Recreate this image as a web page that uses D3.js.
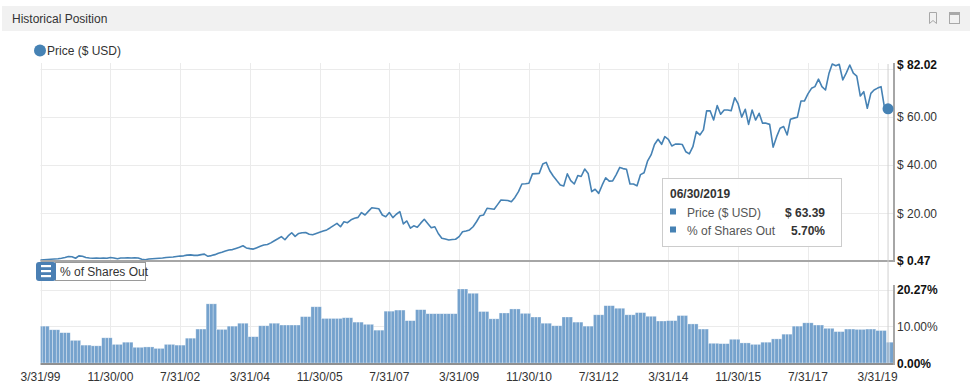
<!DOCTYPE html>
<html><head><meta charset="utf-8">
<script src="https://cdn.jsdelivr.net/npm/d3@7/dist/d3.min.js"></script>
<style>body{margin:0;background:#fff}svg{display:block;font-family:"Liberation Sans",Arial,sans-serif}</style>
</head><body><svg id="c" width="974" height="389"></svg>
<script>
const title = "Historical Position";
const priceName = "Price ($ USD)";
const sharesName = "% of Shares Out";
const firstMonthEnd = "1999-03-31";
// monthly month-end prices, 3/99 .. 6/19
const priceValues = [
0.47,0.6,0.7,0.8,0.9,1.0,1.2,1.5,1.9,1.8,
1.2,2.2,2.0,1.5,1.3,1.2,1.3,1.2,1.3,1.2,
1.5,1.3,1.0,1.3,1.3,1.4,1.3,1.4,1.3,0.8,
0.6,0.9,1.0,1.1,1.2,1.3,1.5,1.6,1.7,1.9,
2.1,2.2,2.5,2.6,2.4,2.4,2.7,2.9,2.0,2.3,
2.7,3.3,3.7,4.2,4.6,4.8,5.3,5.8,6.4,5.5,
5.2,5.0,5.6,6.2,6.7,6.9,7.6,8.5,9.3,10.2,
8.9,10.5,11.8,10.3,11.5,11.8,11.9,11.2,11.0,11.5,
12.0,12.5,13.0,13.8,14.8,15.7,14.3,16.4,16.0,17.2,
17.8,18.2,20.2,19.2,20.8,22.2,22.0,21.8,19.2,18.5,
20.2,18.1,19.5,20.6,15.5,16.7,13.7,14.7,14.1,15.8,
17.4,15.7,13.9,14.3,11.5,9.5,9.2,8.8,9.0,9.1,
10.2,12.2,12.5,13.0,14.3,16.5,18.9,19.2,22.0,21.8,
21.6,23.4,25.4,25.3,25.2,24.7,26.5,28.9,32.1,32.2,
32.4,36.3,36.4,36.5,40.4,41.1,37.6,35.4,33.5,31.7,
31.3,36.3,33.5,32.1,35.6,35.2,38.3,36.5,28.9,29.9,
28.2,31.7,34.7,33.3,33.4,36.0,39.0,38.5,38.2,32.1,
32.1,31.3,36.0,36.8,41.6,44.2,48.5,50.7,48.6,51.8,
50.7,47.9,48.7,48.7,48.5,45.5,44.6,47.6,53.9,52.5,
54.6,62.5,62.5,58.7,64.7,61.1,62.9,62.9,62.6,68.0,
65.4,59.9,63.2,56.9,62.9,58.7,61.5,57.4,57.4,56.9,
47.4,51.8,55.3,56.0,52.5,59.0,59.5,59.9,66.6,66.6,
69.6,71.9,72.6,75.7,72.6,71.2,78.2,82.02,81.3,81.9,
75.4,78.2,81.6,78.2,77.0,68.7,70.5,63.6,69.8,71.2,
72.0,72.6,63.6,63.39];
const latestDate = "2019-08-21";
const latestPrice = 62.6;
// quarterly % of shares outstanding, 3/99 .. 6/19
const sharesValues = [
10.1,9.1,8.3,6.2,4.9,4.7,6.9,5.1,5.7,4.3,
4.4,4.0,5.1,4.9,6.8,9.3,16.2,9.2,10.1,10.9,
7.2,10.2,10.9,10.4,10.4,12.7,15.4,12.2,12.2,12.4,
11.2,10.6,9.0,14.2,14.5,11.6,14.6,13.5,13.5,13.5,
20.27,19.1,14.1,12.1,13.7,14.8,13.6,12.6,10.9,10.2,
12.6,11.2,10.1,13.2,15.7,15.0,13.2,13.8,12.8,11.5,
11.6,13.0,10.7,9.3,5.4,5.3,6.5,5.5,5.1,5.7,
6.6,7.9,10.1,11.0,10.4,9.5,8.6,9.3,9.2,9.3,
8.9,5.70];
const xTickLabels = ["3/31/99","11/30/00","7/31/02","3/31/04","11/30/05","7/31/07","3/31/09","11/30/10","7/31/12","3/31/14","11/30/15","7/31/17","3/31/19"];
const priceTicks = [82.02, 60, 40, 20, 0.47];
const priceBoldTicks = [82.02, 0.47];
const priceGrid = [20, 40, 60, 80];
const sharesTicks = [20.27, 10, 0];
const sharesBoldTicks = [20.27, 0];
const sharesGrid = [10, 20];
const tooltipDate = "06/30/2019";

const svg = d3.select("#c");
const BLUE = "#4682b4", TXT = "#333";
const L = 40.5, R = 894;
const parseISO = d3.timeParse("%Y-%m-%d");
const parseTick = d3.timeParse("%-m/%d/%y");
const start = parseISO(firstMonthEnd);
const monthEnd = i => d3.timeDay.offset(d3.timeMonth.offset(new Date(start.getFullYear(), start.getMonth()+1, 1), i), -1);
const priceData = priceValues.map((v,i)=>({d: monthEnd(i), v}));
priceData.push({d: parseISO(latestDate), v: latestPrice});

const x = d3.scaleTime().domain([start, parseISO(latestDate)]).range([L, R]);
const yP = d3.scaleLinear().domain([0.47, 82.02]).range([260, 64]);
const yS = d3.scaleLinear().domain([0, 20.27]).range([363, 289]);

// header
svg.append("rect").attr("x",2).attr("y",6).attr("width",968).attr("height",25).attr("fill","#f1f1f1");
svg.append("text").attr("x",12).attr("y",22.5).attr("font-size",12).attr("fill",TXT).text(title);
svg.append("path").attr("d","M929.5,12.5 h7 v11 l-3.5,-3 l-3.5,3 z").attr("fill","none").attr("stroke","#a8a8a8");
svg.append("rect").attr("x",949.5).attr("y",12.5).attr("width",10).attr("height",11).attr("fill","none").attr("stroke","#a8a8a8");
svg.append("line").attr("x1",949.5).attr("x2",959.5).attr("y1",14).attr("y2",14).attr("stroke","#a8a8a8").attr("stroke-width",2);

// gridlines
const ticksX = xTickLabels.map(s=>parseTick(s));
const g = svg.append("g");
g.selectAll(".vg").data(ticksX).join("line").attr("x1",d=>Math.round(x(d))+0.5).attr("x2",d=>Math.round(x(d))+0.5)
  .attr("y1",63).attr("y2",363).attr("stroke","#ebebeb");
g.selectAll(".hp").data(priceGrid).join("line").attr("x1",L).attr("x2",R).attr("y1",d=>Math.round(yP(d))+0.5).attr("y2",d=>Math.round(yP(d))+0.5).attr("stroke","#ebebeb");
g.selectAll(".hs").data(sharesGrid).join("line").attr("x1",L).attr("x2",R).attr("y1",d=>Math.round(yS(d))+0.5).attr("y2",d=>Math.round(yS(d))+0.5).attr("stroke","#ebebeb");

// bars (monthly columns, quarterly values)
const bars = [];
sharesValues.forEach((v,q)=>{
  for(let m=0;m<3;m++){
    const i=3*q+m;
    const c=x(monthEnd(i));
    let l=(x(monthEnd(i-1))+c)/2, r=(c+x(monthEnd(i+1)))/2;
    l=Math.max(l,L); r=Math.min(r,R);
    if(r>l) bars.push({l,r,v});
  }
});
svg.append("g").selectAll("rect").data(bars).join("rect")
  .attr("x",d=>d.l).attr("width",d=>d.r-d.l).attr("y",d=>yS(d.v)).attr("height",d=>363-yS(d.v))
  .attr("fill","#75a2cd").attr("stroke","rgba(255,255,255,0.5)").attr("stroke-width",0.6);

// price line
svg.append("path").datum(priceData).attr("fill","none").attr("stroke",BLUE).attr("stroke-width",1.6)
  .attr("stroke-linejoin","round").attr("d",d3.line().x(d=>x(d.d)).y(d=>yP(d.v)));

// axes lines
svg.append("line").attr("x1",L).attr("x2",R+1).attr("y1",261).attr("y2",261).attr("stroke","#a6a6a6").attr("stroke-width",2);
svg.append("line").attr("x1",R).attr("x2",R).attr("y1",63).attr("y2",262).attr("stroke","#a6a6a6").attr("stroke-width",2);
svg.append("line").attr("x1",L).attr("x2",R+1).attr("y1",364).attr("y2",364).attr("stroke","#909090").attr("stroke-width",2);
svg.append("line").attr("x1",R).attr("x2",R).attr("y1",285).attr("y2",365).attr("stroke","#a6a6a6").attr("stroke-width",2);

// right axis labels
svg.append("g").selectAll("text").data(priceTicks).join("text").attr("x",897).attr("y",d=>yP(d)+4.5)
  .attr("font-size",12).attr("fill",d=>priceBoldTicks.includes(d)?"#111":TXT).attr("font-weight",d=>priceBoldTicks.includes(d)?"bold":"normal")
  .text(d=>"$ "+d.toFixed(2));
svg.append("g").selectAll("text").data(sharesTicks).join("text").attr("x",897).attr("y",d=>yS(d)+4.5)
  .attr("font-size",12).attr("fill",d=>sharesBoldTicks.includes(d)?"#111":TXT).attr("font-weight",d=>sharesBoldTicks.includes(d)?"bold":"normal")
  .text(d=>d.toFixed(2)+"%");

// x labels
svg.append("g").selectAll("text").data(ticksX).join("text").attr("x",d=>x(d)).attr("y",381)
  .attr("text-anchor","middle").attr("font-size",12).attr("fill",TXT).text((d,i)=>xTickLabels[i]);

// legend
svg.append("circle").attr("cx",40).attr("cy",50.5).attr("r",6).attr("fill",BLUE);
svg.append("text").attr("x",47).attr("y",55).attr("font-size",12).attr("fill",TXT).text(priceName);

// shares legend box
svg.append("rect").attr("x",55.5).attr("y",262.5).attr("width",90).attr("height",18).attr("fill","#fff").attr("stroke","#9a9a9a");
svg.append("rect").attr("x",36).attr("y",262).attr("width",20).attr("height",19).attr("rx",3).attr("fill","#4a7fb3");
[266,271,276].forEach(yy=>svg.append("rect").attr("x",41).attr("y",yy-1).attr("width",10).attr("height",2.2).attr("fill","#fff"));
svg.append("text").attr("x",60).attr("y",276).attr("font-size",12).attr("fill",TXT).text(sharesName);

// crosshair + marker
const hp = priceData[priceValues.length-1];
svg.append("line").attr("x1",x(hp.d)).attr("x2",x(hp.d)).attr("y1",64).attr("y2",363).attr("stroke","#cfcfcf");
svg.append("circle").attr("cx",x(hp.d)).attr("cy",yP(hp.v)).attr("r",5.5).attr("fill",BLUE);

// tooltip
const tt = svg.append("g");
tt.append("rect").attr("x",662.5).attr("y",178.5).attr("width",179).attr("height",68).attr("fill","rgba(255,255,255,0.92)").attr("stroke","#cccccc");
tt.append("text").attr("x",670).attr("y",198).attr("font-size",12).attr("font-weight","bold").attr("fill",TXT).text(tooltipDate);
const rows = [[priceName, "$ "+hp.v.toFixed(2)],[sharesName, sharesValues[sharesValues.length-1].toFixed(2)+"%"]];
rows.forEach((r,k)=>{
  const yy = 216.5 + k*18;
  tt.append("rect").attr("x",670).attr("y",yy-8).attr("width",6).attr("height",6).attr("fill",BLUE);
  tt.append("text").attr("x",687).attr("y",yy).attr("font-size",12).attr("fill","#555").text(r[0]);
  tt.append("text").attr("x",825).attr("y",yy).attr("text-anchor","end").attr("font-size",12).attr("font-weight","bold").attr("fill",TXT).text(r[1]);
});
</script></body></html>
